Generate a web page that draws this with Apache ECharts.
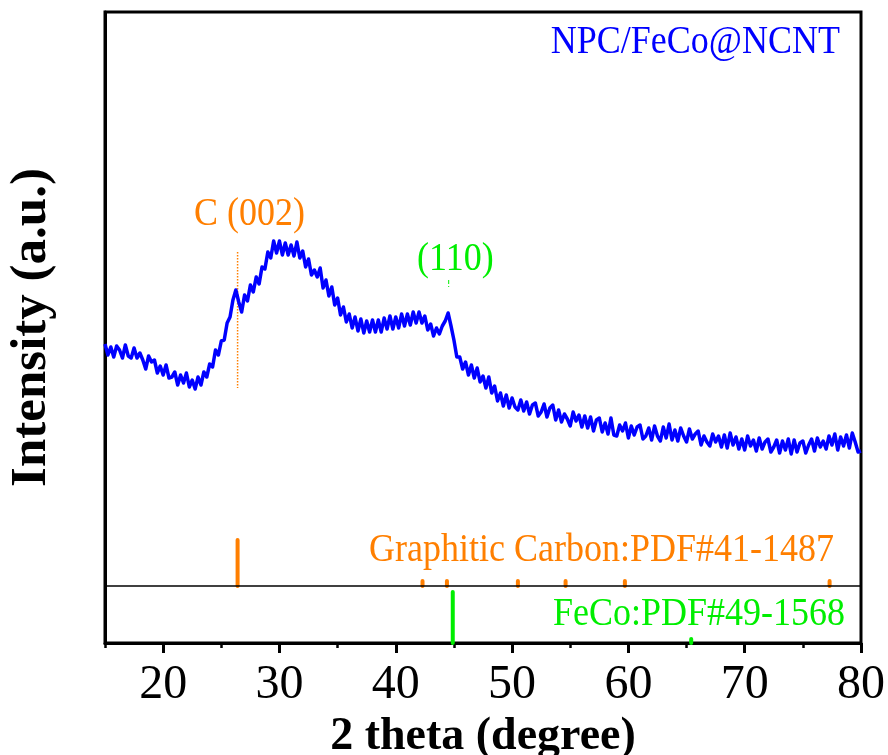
<!DOCTYPE html>
<html><head><meta charset="utf-8">
<script src="https://cdn.jsdelivr.net/npm/echarts@6/dist/echarts.min.js"></script>
<style>html,body{margin:0;padding:0;background:#fff}#c{width:888px;height:755px}</style>
</head><body><div id="c"></div>
<script>
// 2θ sampling (degrees)
const twoTheta = [
15,15.25,15.5,15.75,16,16.25,16.5,16.75,17,17.25,17.5,17.75,18,18.25,18.5,18.75,19,19.25,19.5,19.75,
20,20.25,20.5,20.75,21,21.25,21.5,21.75,22,22.25,22.5,22.75,23,23.25,23.5,23.75,24,24.25,24.5,24.75,
25,25.25,25.5,25.75,26,26.25,26.5,26.75,27,27.25,27.5,27.75,28,28.25,28.5,28.75,29,29.25,29.5,29.75,
30,30.25,30.5,30.75,31,31.25,31.5,31.75,32,32.25,32.5,32.75,33,33.25,33.5,33.75,34,34.25,34.5,34.75,
35,35.25,35.5,35.75,36,36.25,36.5,36.75,37,37.25,37.5,37.75,38,38.25,38.5,38.75,39,39.25,39.5,39.75,
40,40.25,40.5,40.75,41,41.25,41.5,41.75,42,42.25,42.5,42.75,43,43.25,43.5,43.75,44,44.25,44.5,44.75,
45,45.25,45.5,45.75,46,46.25,46.5,46.75,47,47.25,47.5,47.75,48,48.25,48.5,48.75,49,49.25,49.5,49.75,
50,50.25,50.5,50.75,51,51.25,51.5,51.75,52,52.25,52.5,52.75,53,53.25,53.5,53.75,54,54.25,54.5,54.75,
55,55.25,55.5,55.75,56,56.25,56.5,56.75,57,57.25,57.5,57.75,58,58.25,58.5,58.75,59,59.25,59.5,59.75,
60,60.25,60.5,60.75,61,61.25,61.5,61.75,62,62.25,62.5,62.75,63,63.25,63.5,63.75,64,64.25,64.5,64.75,
65,65.25,65.5,65.75,66,66.25,66.5,66.75,67,67.25,67.5,67.75,68,68.25,68.5,68.75,69,69.25,69.5,69.75,
70,70.25,70.5,70.75,71,71.25,71.5,71.75,72,72.25,72.5,72.75,73,73.25,73.5,73.75,74,74.25,74.5,74.75,
75,75.25,75.5,75.75,76,76.25,76.5,76.75,77,77.25,77.5,77.75,78,78.25,78.5,78.75,79,79.25,79.5,79.75,
80];
// measured intensity (a.u.)
const intensity = [
242,231,239,229, 240,236,228,241, 230,228,238,228, 233,226,217,230, 224,226,213,220,
211,221,208,209, 214,201,211,203, 213,199,206,197, 209,201,214,209, 222,219,236,231,
245,246,263,269, 286,296,284,274, 291,285,301,294, 309,302,319,317, 334,328,345,333,
345,331,343,331, 341,330,344,328, 335,319,327,311, 316,309,318,298, 306,290,299,281,
288,271,279,264, 272,258,269,255, 267,253,265,254, 266,254,266,254, 268,257,270,257,
269,258,272,260, 272,261,274,263, 274,263,270,256, 262,250,258,252, 260,265,273,260,
246,229,229,217, 224,211,221,208, 218,204,210,198, 209,193,200,185, 193,180,191,178,
188,179,176,186, 175,184,172,181, 183,170,174,182, 169,178,181,166, 176,164,172,167,
160,174,165,171, 159,170,158,169, 155,166,168,154, 163,152,168,151, 150,161,155,163,
148,160,151,159, 161,147,150,158, 146,160,150,145, 159,148,162,146, 156,145,158,150,
144,157,147,152, 155,141,150,144, 140,152,144,150, 139,151,138,153, 141,149,137,147,
136,150,140,146, 135,148,137,144, 147,134,139,146, 133,145,136,147, 132,146,134,143,
145,133,141,147, 135,148,139,145, 137,150,141,152, 136,149,140,151, 138,153,144,134,
135];
// reference patterns
const graphitePos = [26.4, 42.3, 44.4, 50.5, 54.6, 59.7, 77.3];
const graphiteTop = [46, 5, 5, 5, 5, 5, 5];
const graphiteBase = 0;
const fecoPos = [44.9, 65.4];
const fecoTop = [-6, -53];
const fecoBase = -57;
// guide lines
const c002Guide = [[26.4, 334], [26.4, 198]];
const fe110Guide = [[44.55, 306], [44.55, 299]];
// axis ticks
const xMajorTicks = [20, 30, 40, 50, 60, 70, 80];
const xMinorTicks = [15, 25, 35, 45, 55, 65, 75];

const FONT = "'Liberation Serif','Times New Roman',serif";
const ORANGE = '#ff7f00';
const GREEN = '#00ee00';
const BLUE = '#0000ff';

const curve = twoTheta.map((x, i) => [x, intensity[i]]);
const gData = graphitePos.map((x, i) => [x, graphiteBase, graphiteTop[i]]);
const fData = fecoPos.map((x, i) => [x, fecoBase, fecoTop[i]]);

function stick(params, api) {
  const p0 = api.coord([api.value(0), api.value(1)]);
  const p1 = api.coord([api.value(0), api.value(2)]);
  return {type: 'line', shape: {x1: p0[0], y1: p0[1], x2: p1[0], y2: p1[1]},
          style: {stroke: api.visual('color'), lineWidth: 4, lineCap: 'round'}};
}

const SY = 1.12;
const chart = echarts.init(document.getElementById('c'), null, {renderer: 'canvas'});
chart.setOption({
  animation: false,
  backgroundColor: '#fff',
  grid: {left: 105, right: 27, top: 12, bottom: 112, containLabel: false, outerBoundsMode: 'none',
         show: true, borderColor: '#000', borderWidth: 3, backgroundColor: 'transparent'},
  xAxis: [{
    type: 'value', min: 15, max: 80, position: 'bottom',
    axisLine: {show: true, onZero: false, lineStyle: {color: '#000', width: 3}},
    axisTick: {show: true, customValues: xMajorTicks, length: 10, inside: false, lineStyle: {color: '#000', width: 3}},
    axisLabel: {show: true, customValues: xMajorTicks, fontFamily: FONT, fontSize: 48, color: '#000', margin: 18},
    splitLine: {show: false},
    name: '2 theta (degree)', nameLocation: 'middle', nameGap: 58,
    nameTextStyle: {fontFamily: FONT, fontSize: 46, fontWeight: 'bold', color: '#000'}
  }, {
    type: 'value', min: 15, max: 80, position: 'bottom',
    axisLine: {show: false, onZero: false},
    axisTick: {show: true, customValues: xMinorTicks, length: 5, inside: false, lineStyle: {color: '#000', width: 2.5}},
    axisLabel: {show: false}, splitLine: {show: false}
  }],
  yAxis: {
    type: 'value', min: -57, max: 574,
    axisLine: {show: true, onZero: false, lineStyle: {color: '#000', width: 3}},
    axisTick: {show: false}, axisLabel: {show: false}, splitLine: {show: false},
    name: 'Intensity (a.u.)', nameLocation: 'middle', nameGap: 48,
    nameTextStyle: {fontFamily: FONT, fontSize: 51, fontWeight: 'bold', color: '#000'}
  },
  series: [
    {type: 'line', data: curve, showSymbol: false, xAxisIndex: 0,
     lineStyle: {color: BLUE, width: 3.5, join: 'round'}, itemStyle: {color: BLUE}, z: 3},
    {type: 'custom', renderItem: stick, data: gData, itemStyle: {color: ORANGE}, z: 4,
     markLine: {silent: true, symbol: 'none', label: {show: false},
       lineStyle: {color: '#000', width: 1.5, type: 'solid'}, data: [{yAxis: 0}]}},
    {type: 'custom', renderItem: stick, data: fData, itemStyle: {color: GREEN}, z: 4},
    {type: 'line', data: c002Guide, showSymbol: false, lineStyle: {color: ORANGE, width: 1.5, type: 'dotted'}, z: 2},
    {type: 'line', data: fe110Guide, showSymbol: false, lineStyle: {color: GREEN, width: 1, type: 'dashed'}, z: 2}
  ],
  graphic: [
    {type: 'text', x: 840, y: 42, scaleY: SY, style: {text: 'NPC/FeCo@NCNT', fill: BLUE, font: "36px " + FONT, textAlign: 'right', textVerticalAlign: 'middle'}},
    {type: 'text', x: 194, y: 214, scaleY: SY, style: {text: 'C (002)', fill: ORANGE, font: "36px " + FONT, textAlign: 'left', textVerticalAlign: 'middle'}},
    {type: 'text', x: 417, y: 259, scaleY: SY, style: {text: '(110)', fill: GREEN, font: "36px " + FONT, textAlign: 'left', textVerticalAlign: 'middle'}},
    {type: 'text', x: 834, y: 550, scaleY: SY, style: {text: 'Graphitic Carbon:PDF#41-1487', fill: ORANGE, font: "36px " + FONT, textAlign: 'right', textVerticalAlign: 'middle'}},
    {type: 'text', x: 845, y: 614, scaleY: SY, style: {text: 'FeCo:PDF#49-1568', fill: GREEN, font: "36px " + FONT, textAlign: 'right', textVerticalAlign: 'middle'}}
  ]
});
</script></body></html>
